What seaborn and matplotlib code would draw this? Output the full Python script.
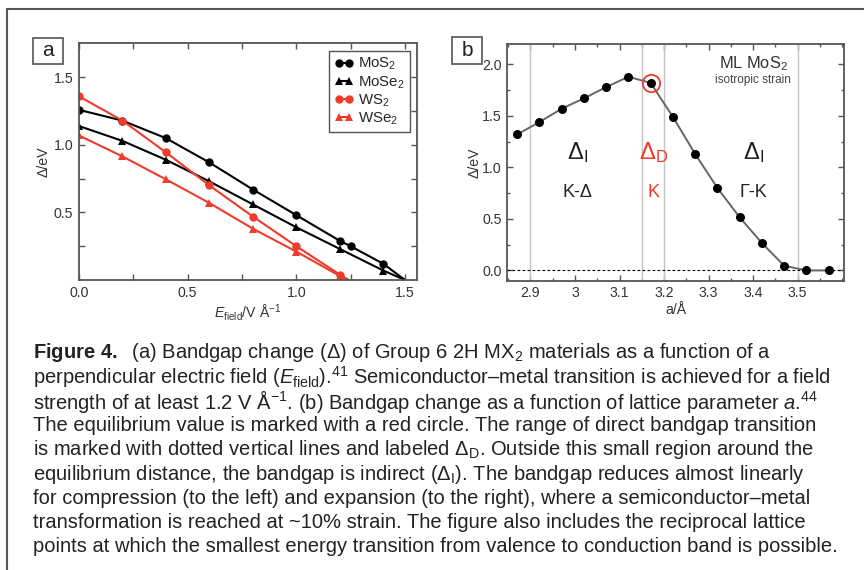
import matplotlib
matplotlib.use("Agg")
import pandas as pd
import seaborn as sns
import matplotlib.pyplot as plt
from matplotlib.ticker import MultipleLocator, FixedLocator, FuncFormatter
from matplotlib.lines import Line2D
from matplotlib.patches import Rectangle

# --- panel a: bandgap vs. perpendicular field ---
field_mos2 = [0.0, 0.2, 0.4, 0.6, 0.8, 1.0, 1.2, 1.25, 1.4, 1.5]
gap_mos2 = [1.26, 1.18, 1.05, 0.87, 0.67, 0.48, 0.29, 0.25, 0.12, 0.0]
field_mose2 = [0.0, 0.2, 0.4, 0.6, 0.8, 1.0, 1.2, 1.4, 1.5]
gap_mose2 = [1.14, 1.03, 0.89, 0.73, 0.56, 0.39, 0.23, 0.07, 0.0]
field_ws2 = [0.0, 0.2, 0.4, 0.6, 0.8, 1.0, 1.2, 1.24]
gap_ws2 = [1.36, 1.18, 0.945, 0.70, 0.47, 0.25, 0.04, 0.0]
field_wse2 = [0.0, 0.2, 0.4, 0.6, 0.8, 1.0, 1.2, 1.24]
gap_wse2 = [1.07, 0.915, 0.745, 0.57, 0.38, 0.21, 0.03, 0.0]

# --- panel b: bandgap vs. lattice parameter ---
lattice = [2.87, 2.92, 2.97, 3.02, 3.07, 3.12, 3.17, 3.22, 3.27, 3.32, 3.37, 3.42, 3.47, 3.52, 3.57]
gap_lat = [1.32, 1.44, 1.57, 1.67, 1.78, 1.88, 1.82, 1.49, 1.13, 0.80, 0.515, 0.265, 0.045, 0.0, 0.0]
equilibrium = 6
region_edges = [2.9, 3.15, 3.2, 3.5]
lattice_ticks = [2.9, 3.0, 3.1, 3.2, 3.3, 3.4, 3.5]

caption_lines = [
    r"$\mathbf{Figure\ 4.}$  (a) Bandgap change (Δ) of Group 6 2H MX$_2$ materials as a function of a",
    r"perpendicular electric field ($E_{\mathrm{field}}$).$^{41}$ Semiconductor–metal transition is achieved for a field",
    r"strength of at least 1.2 V Å$^{-1}$. (b) Bandgap change as a function of lattice parameter $a$.$^{44}$",
    "The equilibrium value is marked with a red circle. The range of direct bandgap transition",
    r"is marked with dotted vertical lines and labeled Δ$_{\mathrm{D}}$. Outside this small region around the",
    r"equilibrium distance, the bandgap is indirect (Δ$_{\mathrm{I}}$). The bandgap reduces almost linearly",
    "for compression (to the left) and expansion (to the right), where a semiconductor–metal",
    "transformation is reached at ~10% strain. The figure also includes the reciprocal lattice",
    "points at which the smallest energy transition from valence to conduction band is possible.",
]

RED = "#ee3b2b"
EDGE = "#555555"
TICKFS = 10.2

sns.set_style("ticks")
plt.rcParams['font.family'] = ['Liberation Sans', 'DejaVu Sans']
plt.rcParams['mathtext.fontset'] = 'custom'
plt.rcParams['mathtext.rm'] = 'Liberation Sans'
plt.rcParams['mathtext.it'] = 'Liberation Sans:italic'
plt.rcParams['mathtext.bf'] = 'Liberation Sans:bold'
plt.rcParams['axes.edgecolor'] = EDGE
plt.rcParams['axes.linewidth'] = 1.3
plt.rcParams['xtick.color'] = EDGE
plt.rcParams['ytick.color'] = EDGE
plt.rcParams['xtick.labelcolor'] = '#333333'
plt.rcParams['ytick.labelcolor'] = '#333333'

fig = plt.figure(figsize=(8.64, 5.70), dpi=100)
ax_a = fig.add_axes([0.0914, 0.5088, 0.3912, 0.4158])
ax_b = fig.add_axes([0.5872, 0.5075, 0.3900, 0.4153])


def style_ticks(ax):
    ax.tick_params(which='both', direction='in', top=True, right=True,
                   labelsize=TICKFS, width=1.0, pad=4)


# panel a
series = [
    (field_mos2, gap_mos2, 'black', 'o', 6, r'MoS$_2$'),
    (field_mose2, gap_mose2, 'black', '^', 6, r'MoSe$_2$'),
    (field_ws2, gap_ws2, RED, 'o', 6, r'WS$_2$'),
    (field_wse2, gap_wse2, RED, '^', 5.5, r'WSe$_2$'),
]
for xs, ys, col, mk, ms, lab in series:
    sns.lineplot(x=xs, y=ys, ax=ax_a, color=col, marker=mk, markersize=ms,
                 markeredgewidth=0, linewidth=1.5, label=lab,
                 markevery=slice(0, len(xs) - 1))
ax_a.set_xlim(0, 1.555)
ax_a.set_ylim(0, 1.755)
ax_a.xaxis.set_major_locator(FixedLocator([0.0, 0.5, 1.0, 1.5]))
ax_a.xaxis.set_minor_locator(FixedLocator([0.25, 0.75, 1.25]))
ax_a.yaxis.set_major_locator(FixedLocator([0.5, 1.0, 1.5]))
ax_a.yaxis.set_minor_locator(FixedLocator([0.25, 0.75, 1.25]))
ax_a.xaxis.set_major_formatter(FuncFormatter(lambda v, p: f"{v:.1f}"))
ax_a.yaxis.set_major_formatter(FuncFormatter(lambda v, p: f"{v:.1f}"))
style_ticks(ax_a)
ax_a.tick_params(which='both', length=4)
ax_a.set_xlabel(r"$E_{\mathrm{field}}$/V Å$^{-1}$", fontsize=TICKFS, color='#333333', labelpad=2)
ax_a.set_ylabel("Δ/eV", fontsize=TICKFS, color='#333333', labelpad=2)
leg = ax_a.legend(loc='upper right', bbox_to_anchor=(0.978, 0.967), numpoints=2,
                  handlelength=1.3, handletextpad=0.25, labelspacing=0.12,
                  borderpad=0.35, borderaxespad=0, fontsize=10.8, fancybox=False,
                  framealpha=1, edgecolor=EDGE)
leg.get_frame().set_linewidth(1.0)

# panel b
for xv in region_edges:
    ax_b.axvline(xv, color='#c4c4c4', linewidth=1.0, zorder=1)
ax_b.axhline(0, color='black', linewidth=0.8, linestyle=(0, (2.5, 2)), zorder=1)
sns.lineplot(x=lattice, y=gap_lat, ax=ax_b, color='#666666', linewidth=1.4,
             marker='o', markersize=6.5, markerfacecolor='black',
             markeredgewidth=0, zorder=3)
ax_b.plot(lattice[equilibrium], gap_lat[equilibrium], marker='o', markersize=12.5,
          markerfacecolor='none', markeredgecolor=RED, markeredgewidth=1.3,
          linestyle='none', zorder=4)
ax_b.set_xlim(2.848, 3.605)
ax_b.set_ylim(-0.1, 2.198)
ax_b.xaxis.set_major_locator(FixedLocator(lattice_ticks))
ax_b.xaxis.set_minor_locator(MultipleLocator(0.05))
ax_b.yaxis.set_major_locator(MultipleLocator(0.5))
ax_b.yaxis.set_minor_locator(MultipleLocator(0.25))
ax_b.xaxis.set_major_formatter(FuncFormatter(lambda v, p: f"{v:g}"))
ax_b.yaxis.set_major_formatter(FuncFormatter(lambda v, p: f"{v:.1f}"))
style_ticks(ax_b)
ax_b.tick_params(which='major', length=4)
ax_b.tick_params(which='minor', length=2.5)
ax_b.set_xlabel("a/Å", fontsize=TICKFS, color='#333333', labelpad=2)
ax_b.set_ylabel("Δ/eV", fontsize=TICKFS, color='#333333', labelpad=0)

ax_b.text(3.005, 1.14, r"$\Delta_{\mathrm{I}}$", fontsize=17, color='#222222', ha='center', va='center')
ax_b.text(3.005, 0.76, "K-Δ", fontsize=13, color='#222222', ha='center', va='center')
ax_b.text(3.177, 1.14, r"$\Delta_{\mathrm{D}}$", fontsize=17, color=RED, ha='center', va='center')
ax_b.text(3.177, 0.76, "K", fontsize=13, color=RED, ha='center', va='center')
ax_b.text(3.40, 1.14, r"$\Delta_{\mathrm{I}}$", fontsize=17, color='#222222', ha='center', va='center')
ax_b.text(3.40, 0.76, "Γ-K", fontsize=13, color='#222222', ha='center', va='center')
ax_b.text(3.40, 2.01, r"ML MoS$_2$", fontsize=11.8, color='#333333', ha='center', va='center')
ax_b.text(3.40, 1.85, "isotropic strain", fontsize=8.5, color='#444444', ha='center', va='center')

# panel letters in boxes
for cx, cy, letter in [(48, 51, 'a'), (467, 50.5, 'b')]:
    fig.add_artist(Rectangle(((cx - 15) / 864, 1 - (cy + 13) / 570), 30 / 864, 26 / 570,
                             transform=fig.transFigure, fill=False,
                             edgecolor=EDGE, linewidth=1.2))
    fig.text(cx / 864, 1 - cy / 570, letter, fontsize=15, color='#222222',
             ha='center', va='center')

# outer frame (top and left rules)
fig.add_artist(Line2D([7 / 864, 1.0], [1 - 9 / 570] * 2, transform=fig.transFigure,
                      color=EDGE, linewidth=1.5))
fig.add_artist(Line2D([7 / 864] * 2, [0.0, 1 - 9 / 570], transform=fig.transFigure,
                      color=EDGE, linewidth=1.5))

# caption
for i, line in enumerate(caption_lines):
    fig.text(33 / 864, 1 - (353 + i * 24.2) / 570, line, fontsize=14.5,
             color='#222222', ha='left', va='center')

fig.savefig("out.png", dpi=100)
